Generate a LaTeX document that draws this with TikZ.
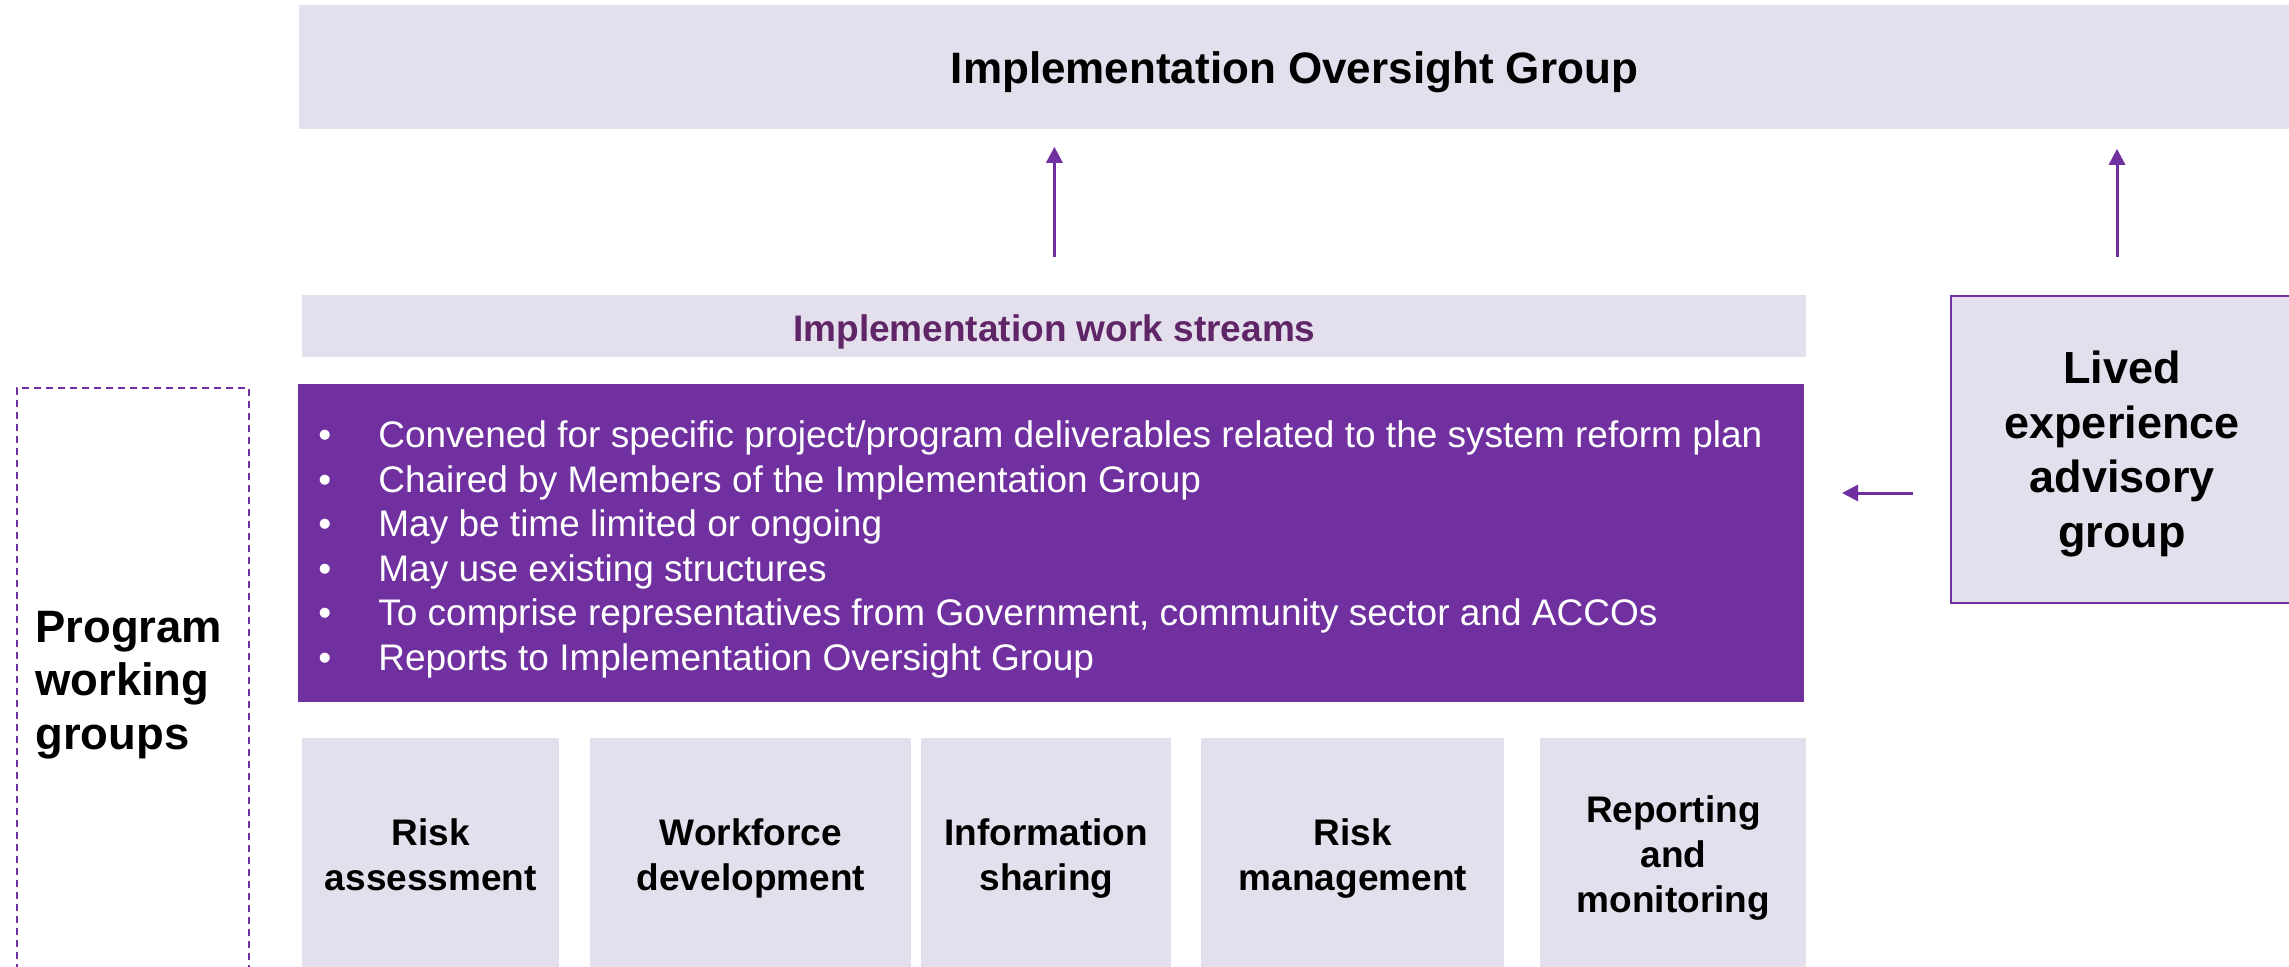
\documentclass[tikz,border=0pt]{standalone}
\usepackage{fontspec}
\setmainfont{Liberation Sans}
\usetikzlibrary{arrows.meta}
\definecolor{lav}{HTML}{E4DFEC}
\definecolor{pur}{HTML}{7030A0}
\definecolor{dpur}{HTML}{5F2567}
\newcommand{\bulline}[1]{\makebox[30pt][l]{•}#1}
\begin{document}
\begin{tikzpicture}[x=0.5pt,y=-0.5pt,
  box/.style={fill=lav, draw=none, inner sep=0pt, anchor=north west},
  arr/.style={draw=pur, line width=1.5pt, -{Triangle[width=8pt,length=8pt]}},
  boldtxt/.style={font=\fontsize{18.5}{22.5}\selectfont\bfseries, align=center, inner sep=0pt},
  bul/.style={font=\fontsize{18.5}{22.3}\selectfont, text=white, anchor=base west, inner sep=0pt},
]
\useasboundingbox (0,0) rectangle (2289,967);
% top
\node[box, minimum width=995pt, minimum height=62pt] (top) at (299,5) {};
\node[inner sep=0pt, font=\fontsize{22}{26}\selectfont\bfseries] (toptext) at ([yshift=-2.2pt]top.center) {Implementation Oversight Group};
% work streams header
\node[box, minimum width=752pt, minimum height=31pt] (ws) at (302,295) {};
\node[boldtxt, text=dpur] (wstext) at ([yshift=-3pt]ws.center) {Implementation work streams};
% purple box
\node[box, fill=pur, minimum width=753pt, minimum height=159pt] (main) at (298,384) {};
\node[bul] (l1) at (318,447.5) {\bulline{Convened for specific project/program deliverables related to the system reform plan}};
\node[bul] (l2) at (318,492.1) {\bulline{Chaired by Members of the Implementation Group}};
\node[bul] (l3) at (318,536.7) {\bulline{May be time limited or ongoing}};
\node[bul] (l4) at (318,581.3) {\bulline{May use existing structures}};
\node[bul] (l5) at (318,625.9) {\bulline{To comprise representatives from Government, community sector and ACCOs}};
\node[bul] (l6) at (318,670.5) {\bulline{Reports to Implementation Oversight Group}};
% lived experience
\node[box, draw=pur, line width=1pt, minimum width=171pt, minimum height=153.5pt] (lived) at (1950,295) {};
\node[align=center, inner sep=0pt, font=\fontsize{22.5}{27.2}\selectfont\bfseries] (livedtext) at ([yshift=-2.2pt]lived.center) {Lived\\experience\\advisory\\group};
% program working groups
\node[anchor=north west, draw=pur, line width=1.1pt, dash pattern=on 3.5pt off 2.5pt, minimum width=116pt, minimum height=296pt, inner sep=0pt] (prog) at (16,387) {};
\node[anchor=west, align=left, inner sep=0pt, font=\fontsize{22.7}{26.6}\selectfont\bfseries] (progtext) at ([yshift=-2.5pt]35,680) {Program\\working\\groups};
% bottom boxes
\node[box, minimum width=128.5pt, minimum height=116pt] (b1) at (302,738) {};
\node[box, minimum width=160.5pt, minimum height=116pt] (b2) at (590,738) {};
\node[box, minimum width=125pt, minimum height=116pt] (b3) at (921,738) {};
\node[box, minimum width=151.5pt, minimum height=116pt] (b4) at (1201,738) {};
\node[box, minimum width=133pt, minimum height=116pt] (b5) at (1540,738) {};
\node[boldtxt] (b1t) at ([yshift=-2.1pt]b1.center) {\strut Risk\\assessment\strut};
\node[boldtxt] (b2t) at ([yshift=-2.1pt]b2.center) {\strut Workforce\\development\strut};
\node[boldtxt] (b3t) at ([yshift=-2.1pt]b3.center) {\strut Information\\sharing\strut};
\node[boldtxt] (b4t) at ([yshift=-2.1pt]b4.center) {\strut Risk\\management\strut};
\node[boldtxt] (b5t) at ([yshift=-2.1pt]b5.center) {\strut Reporting\\and\\monitoring\strut};
% arrows
\draw[arr] ([yshift=19pt]ws.north) -- ([yshift=-8.5pt]ws.north |- top.south);
\draw[arr] ([xshift=-2.5pt,yshift=19pt]lived.north) -- ([xshift=-2.5pt,yshift=-9.5pt]lived.north |- top.south);
\draw[arr] ([xshift=-18.5pt,yshift=-21.75pt]lived.west) -- ++(-71,0);
\end{tikzpicture}
\end{document}
